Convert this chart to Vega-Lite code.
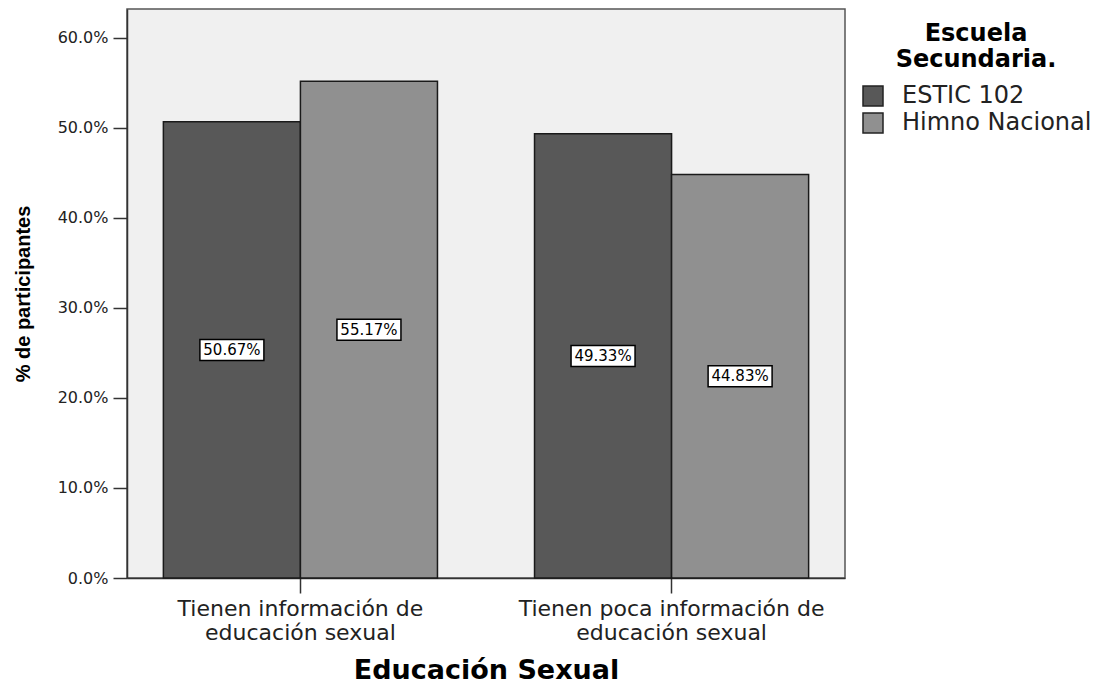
{
  "$schema": "https://vega.github.io/schema/vega-lite/v6.json",
  "width": 718,
  "height": 569,
  "autosize": {"type": "none"},
  "padding": {"left": 127, "top": 9, "right": 262, "bottom": 108},
  "background": "white",
  "config": {
    "font": "DejaVu Sans",
    "view": {"fill": "#f0f0f0", "stroke": "#555555", "strokeWidth": 1.5}
  },
  "data": {
    "values": [
      {"cat": "Tienen información de educación sexual", "school": "ESTIC 102", "value": 50.67},
      {"cat": "Tienen información de educación sexual", "school": "Himno Nacional", "value": 55.17},
      {"cat": "Tienen poca información de educación sexual", "school": "ESTIC 102", "value": 49.33},
      {"cat": "Tienen poca información de educación sexual", "school": "Himno Nacional", "value": 44.83}
    ]
  },
  "transform": [
    {"calculate": "datum.value / 2", "as": "mid"},
    {"calculate": "format(datum.value, '.2f') + '%'", "as": "lbl"}
  ],
  "encoding": {
    "x": {
      "field": "cat", "type": "nominal", "sort": null,
      "scale": {"paddingInner": 0.2615, "paddingOuter": 0.098},
      "axis": {
        "title": "Educación Sexual",
        "titleFont": "DejaVu Sans", "titleFontSize": 27, "titleFontWeight": "bold", "titleColor": "#000000",
        "titlePadding": 14,
        "labelAngle": 0, "labelFont": "DejaVu Sans", "labelFontSize": 22, "labelColor": "#222222",
        "labelLineHeight": 24, "labelPadding": 5, "labelLimit": 0,
        "labelExpr": "datum.value == 'Tienen información de educación sexual' ? ['Tienen información de', 'educación sexual'] : ['Tienen poca información de', 'educación sexual']",
        "tickSize": 15, "tickColor": "#333333", "tickWidth": 1.5,
        "domainColor": "#333333", "domainWidth": 1.5
      }
    },
    "xOffset": {"field": "school", "type": "nominal", "scale": {"paddingInner": 0, "paddingOuter": 0}}
  },
  "layer": [
    {
      "mark": {"type": "bar", "stroke": "#1a1a1a", "strokeWidth": 1.5},
      "encoding": {
        "y": {
          "field": "value", "type": "quantitative",
          "scale": {"domain": [0, 63.2], "nice": false, "zero": true},
          "axis": {
            "title": "% de participantes",
            "titleFont": "Liberation Sans", "titleFontSize": 20, "titleFontWeight": "bold", "titleColor": "#000000",
            "titlePadding": 24,
            "values": [0, 10, 20, 30, 40, 50, 60],
            "labelExpr": "format(datum.value, '.1f') + '%'",
            "labelFont": "DejaVu Sans", "labelFontSize": 16, "labelColor": "#222222", "labelPadding": 5,
            "tickSize": 14, "tickColor": "#333333", "tickWidth": 1.5,
            "grid": false, "domainColor": "#333333", "domainWidth": 1.5
          }
        },
        "color": {
          "field": "school", "type": "nominal",
          "scale": {"domain": ["ESTIC 102", "Himno Nacional"], "range": ["#585858", "#909090"]},
          "legend": {
            "title": ["Escuela", "Secundaria."],
            "titleFont": "DejaVu Sans", "titleFontSize": 24, "titleFontWeight": "bold", "titleColor": "#000000",
            "titleAnchor": "middle", "titleAlign": "center", "titleLineHeight": 26,
            "titlePadding": 12, "titleLimit": 0,
            "labelFont": "DejaVu Sans", "labelFontSize": 24, "labelColor": "#222222", "labelOffset": 17, "labelLimit": 0,
            "symbolType": "square", "symbolSize": 400,
            "symbolStrokeColor": "#222222", "symbolStrokeWidth": 1.5,
            "symbolOpacity": 1,
            "rowPadding": 1, "padding": 0,
            "orient": "none", "legendX": 734, "legendY": 13
          }
        }
      }
    },
    {
      "mark": {
        "type": "point",
        "shape": "M-1,-0.328L1,-0.328L1,0.328L-1,0.328Z",
        "filled": true, "fill": "white", "stroke": "#000000", "strokeWidth": 1.5,
        "opacity": 1, "size": 4096
      },
      "encoding": {
        "y": {"field": "mid", "type": "quantitative"}
      }
    },
    {
      "mark": {"type": "text", "font": "DejaVu Sans", "fontSize": 15, "color": "#000000", "align": "center", "baseline": "middle"},
      "encoding": {
        "y": {"field": "mid", "type": "quantitative"},
        "text": {"field": "lbl"}
      }
    }
  ]
}
